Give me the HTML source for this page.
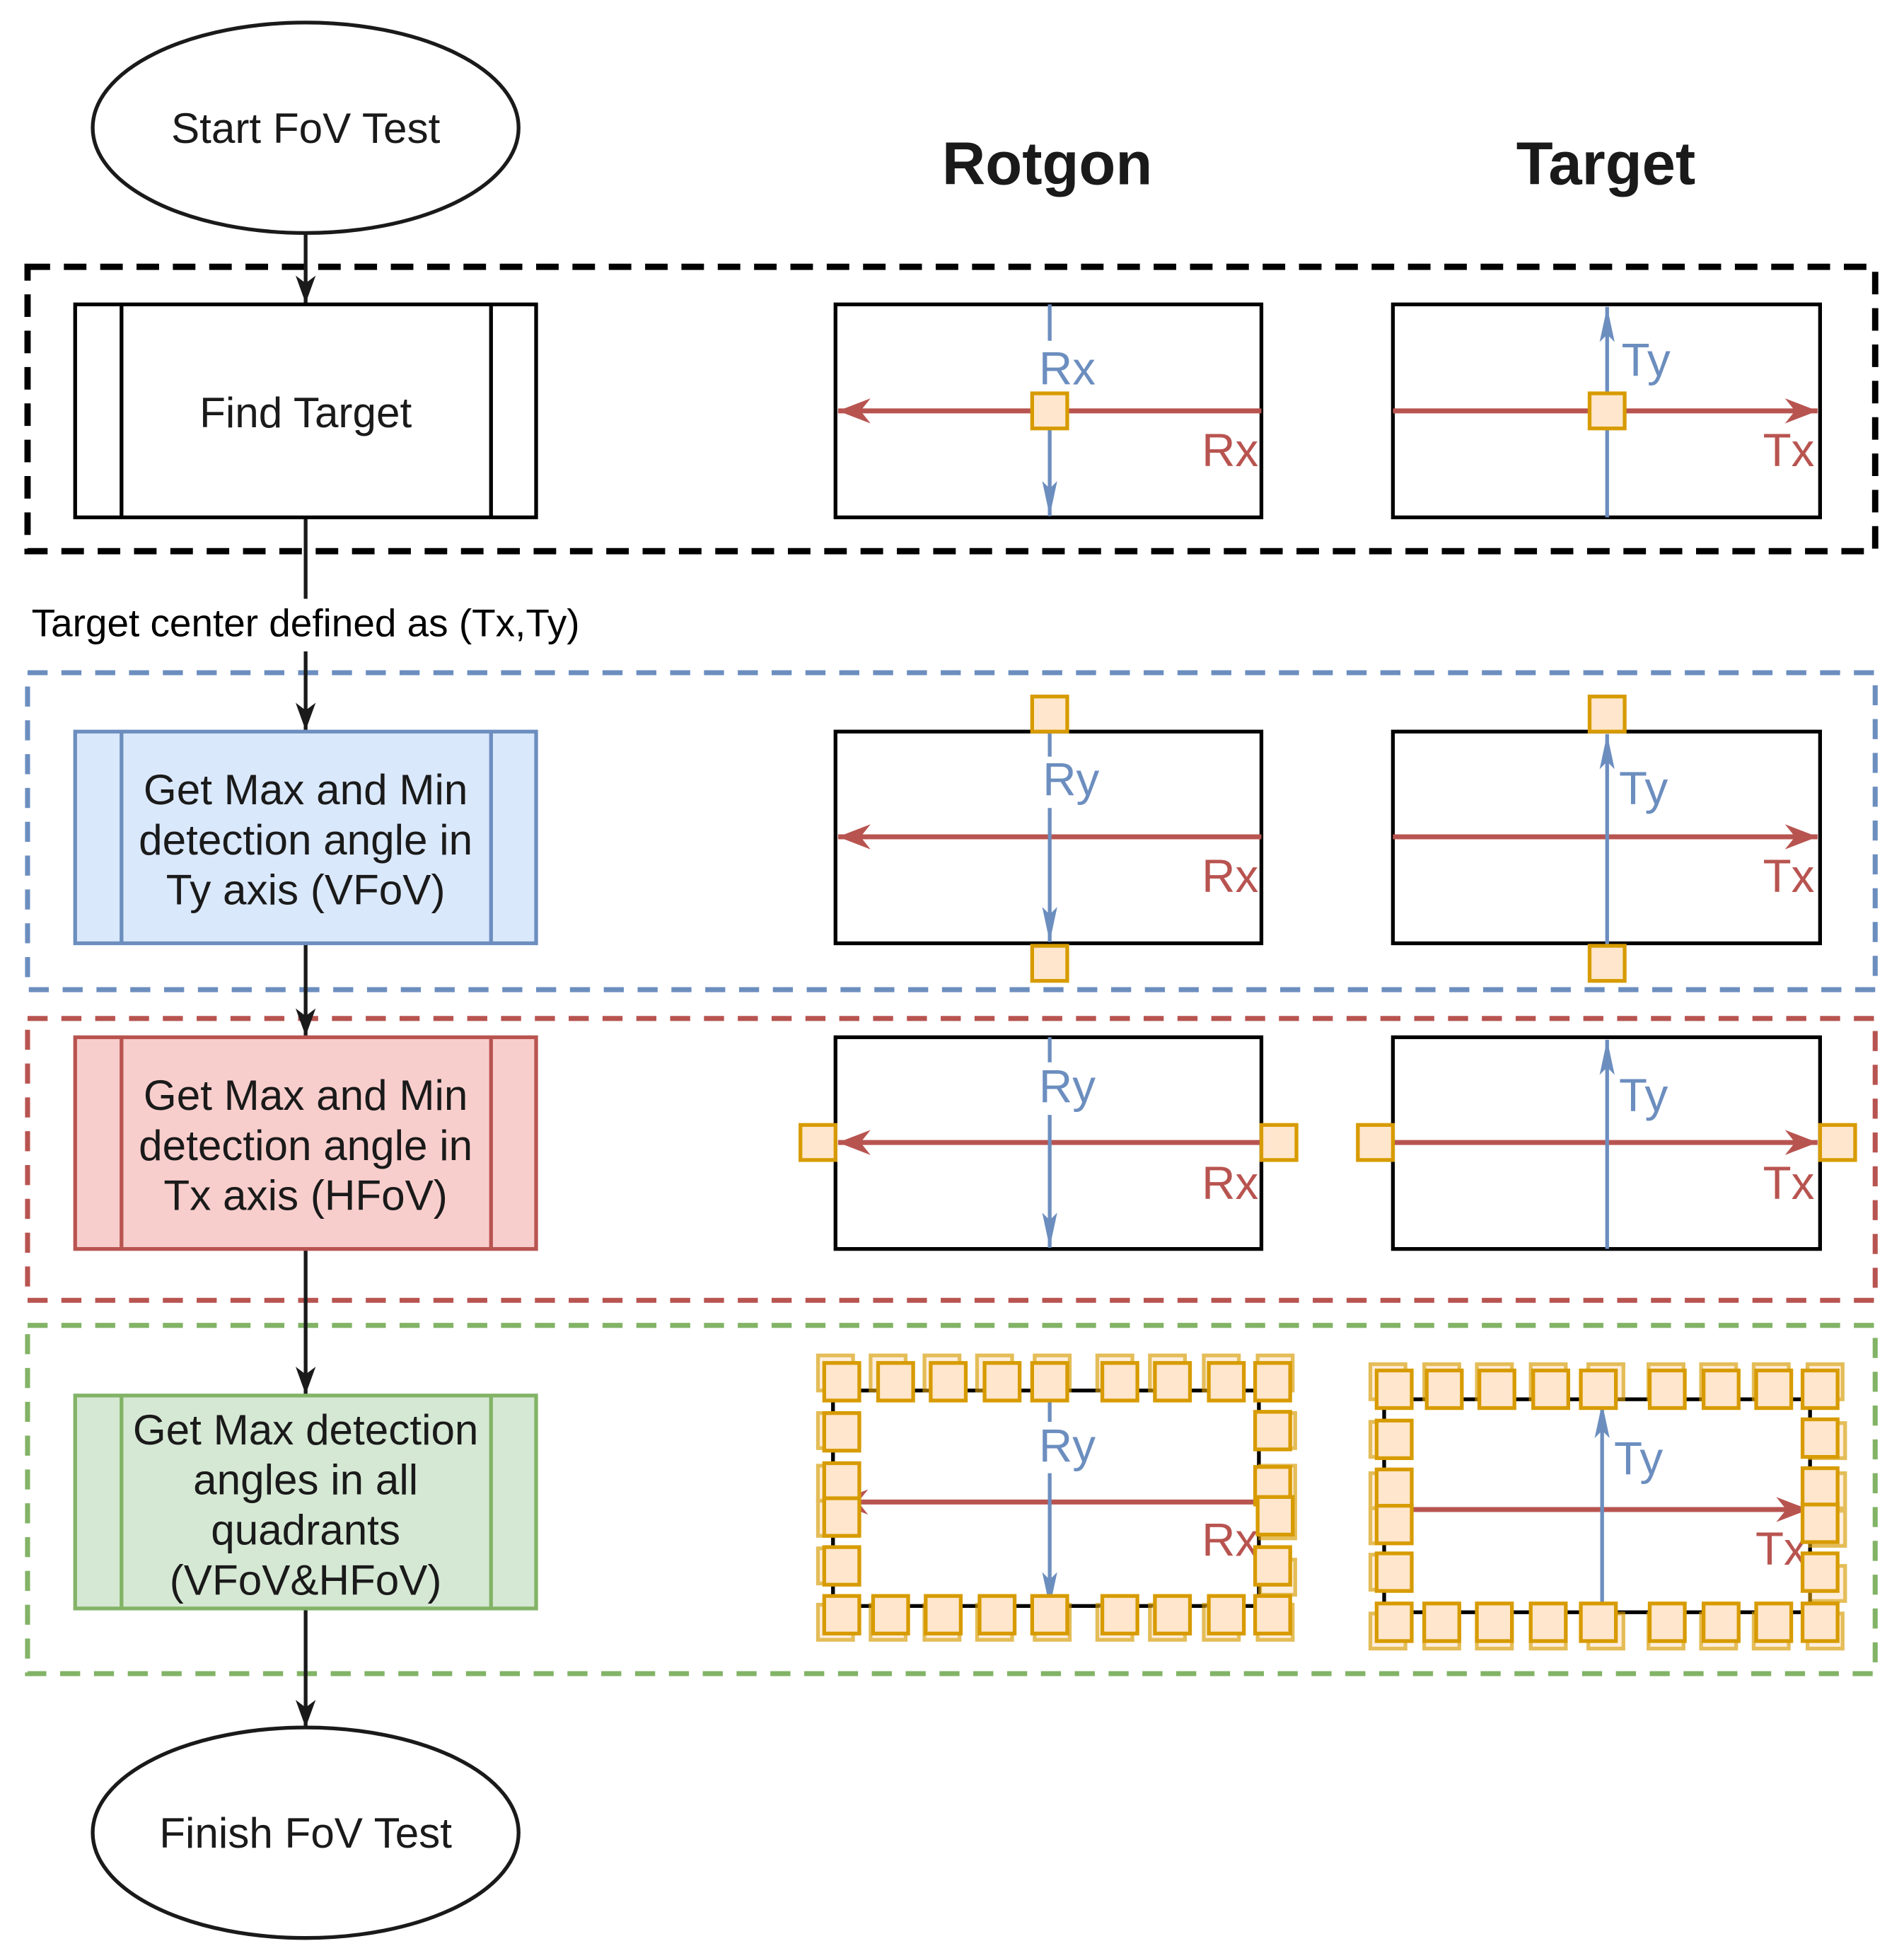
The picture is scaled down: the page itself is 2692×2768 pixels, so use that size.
<!DOCTYPE html>
<html><head><meta charset="utf-8"><style>
html,body{margin:0;padding:0;background:#fff;}
svg{display:block;}
text{font-family:"Liberation Sans",sans-serif;}
</style></head><body>
<svg width="2692" height="2768" viewBox="0 0 1520 1563" preserveAspectRatio="none" xmlns="http://www.w3.org/2000/svg">
<defs>
<marker id="ab" markerUnits="userSpaceOnUse" markerWidth="30" markerHeight="30" refX="22" refY="10" orient="auto" viewBox="0 0 30 20">
<path d="M0,2 L22,10 L0,18 L6,10 Z" fill="#1a1a1a"/></marker>
<marker id="ar" markerUnits="userSpaceOnUse" markerWidth="30" markerHeight="30" refX="26" refY="10" orient="auto" viewBox="0 0 30 20">
<path d="M0,0 L26,10 L0,20 L8,10 Z" fill="#b85450"/></marker>
<marker id="au" markerUnits="userSpaceOnUse" markerWidth="30" markerHeight="30" refX="28" refY="6" orient="auto" viewBox="0 0 30 12">
<path d="M0,0 L28,6 L0,12 L6,6 Z" fill="#6c8ebf"/></marker>
</defs>

<rect x="22" y="213" width="1475" height="227" fill="none" stroke="#000" stroke-width="5" stroke-dasharray="18,11"/>
<rect x="22" y="537" width="1475" height="253" fill="none" stroke="#6c8ebf" stroke-width="4" stroke-dasharray="16,11"/>
<rect x="22" y="813" width="1475" height="225" fill="none" stroke="#b85450" stroke-width="4" stroke-dasharray="16,11"/>
<rect x="22" y="1058" width="1475" height="278" fill="none" stroke="#82b366" stroke-width="4" stroke-dasharray="16,11"/>

<ellipse cx="244" cy="102" rx="170" ry="84" fill="#fff" stroke="#1a1a1a" stroke-width="3"/>
<text x="244" y="114" font-size="34" text-anchor="middle" fill="#1a1a1a">Start FoV Test</text>
<ellipse cx="244" cy="1463" rx="170" ry="84" fill="#fff" stroke="#1a1a1a" stroke-width="3"/>
<text x="244" y="1475" font-size="34" text-anchor="middle" fill="#1a1a1a">Finish FoV Test</text>

<g stroke="#1a1a1a" stroke-width="3" fill="none">
<line x1="244" y1="187" x2="244" y2="242" marker-end="url(#ab)"/>
<line x1="244" y1="413" x2="244" y2="478"/>
<line x1="244" y1="520" x2="244" y2="583" marker-end="url(#ab)"/>
<line x1="244" y1="753" x2="244" y2="827" marker-end="url(#ab)"/>
<line x1="244" y1="997" x2="244" y2="1113" marker-end="url(#ab)"/>
<line x1="244" y1="1284" x2="244" y2="1379" marker-end="url(#ab)"/>
</g>
<text x="244" y="508" font-size="31" text-anchor="middle" fill="#000">Target center defined as (Tx,Ty)</text>

<g stroke-width="3">
<rect x="60" y="243" width="368" height="170" fill="#fff" stroke="#000"/>
<line x1="97" y1="243" x2="97" y2="413" stroke="#000"/><line x1="392" y1="243" x2="392" y2="413" stroke="#000"/>
<rect x="60" y="584" width="368" height="169" fill="#dae8fc" stroke="#6c8ebf"/>
<line x1="97" y1="584" x2="97" y2="753" stroke="#6c8ebf"/><line x1="392" y1="584" x2="392" y2="753" stroke="#6c8ebf"/>
<rect x="60" y="828" width="368" height="169" fill="#f8cecc" stroke="#b85450"/>
<line x1="97" y1="828" x2="97" y2="997" stroke="#b85450"/><line x1="392" y1="828" x2="392" y2="997" stroke="#b85450"/>
<rect x="60" y="1114" width="368" height="170" fill="#d5e8d4" stroke="#82b366"/>
<line x1="97" y1="1114" x2="97" y2="1284" stroke="#82b366"/><line x1="392" y1="1114" x2="392" y2="1284" stroke="#82b366"/>
</g>
<g font-size="34" text-anchor="middle" fill="#1a1a1a">
<text x="244" y="341">Find Target</text>
<text x="244" y="642">Get Max and Min</text>
<text x="244" y="682">detection angle in</text>
<text x="244" y="722">Ty axis (VFoV)</text>
<text x="244" y="886">Get Max and Min</text>
<text x="244" y="926">detection angle in</text>
<text x="244" y="966">Tx axis (HFoV)</text>
<text x="244" y="1153">Get Max detection</text>
<text x="244" y="1193">angles in all</text>
<text x="244" y="1233">quadrants</text>
<text x="244" y="1273">(VFoV&amp;HFoV)</text>
</g>

<text x="836" y="147" font-size="48" font-weight="bold" text-anchor="middle" fill="#1a1a1a">Rotgon</text>
<text x="1282" y="147" font-size="48" font-weight="bold" text-anchor="middle" fill="#1a1a1a">Target</text>

<g fill="#fff" stroke="#000" stroke-width="3">
<rect x="667" y="243" width="340" height="170"/><rect x="1112" y="243" width="341" height="170"/>
<rect x="667" y="584" width="340" height="169"/><rect x="1112" y="584" width="341" height="169"/>
<rect x="667" y="828" width="340" height="169"/><rect x="1112" y="828" width="341" height="169"/>
<rect x="665" y="1110" width="340" height="172"/><rect x="1105" y="1117" width="340" height="170"/>
</g>

<g stroke-width="3" fill="none">
<line x1="1007" y1="328" x2="669" y2="328" stroke="#b85450" stroke-width="4" marker-end="url(#ar)"/>
<line x1="838" y1="243" x2="838" y2="272" stroke="#6c8ebf"/>
<line x1="838" y1="342" x2="838" y2="412" stroke="#6c8ebf" marker-end="url(#au)"/>
<line x1="1112" y1="328" x2="1451" y2="328" stroke="#b85450" stroke-width="4" marker-end="url(#ar)"/>
<line x1="1283" y1="413" x2="1283" y2="245" stroke="#6c8ebf" marker-end="url(#au)"/>
</g>
<g stroke-width="3" fill="none">
<line x1="1007" y1="668" x2="669" y2="668" stroke="#b85450" stroke-width="4" marker-end="url(#ar)"/>
<line x1="838" y1="584" x2="838" y2="604" stroke="#6c8ebf"/>
<line x1="838" y1="645" x2="838" y2="752" stroke="#6c8ebf" marker-end="url(#au)"/>
<line x1="1112" y1="668" x2="1451" y2="668" stroke="#b85450" stroke-width="4" marker-end="url(#ar)"/>
<line x1="1283" y1="755" x2="1283" y2="586" stroke="#6c8ebf" marker-end="url(#au)"/>
</g>
<g stroke-width="3" fill="none">
<line x1="1007" y1="912" x2="669" y2="912" stroke="#b85450" stroke-width="4" marker-end="url(#ar)"/>
<line x1="838" y1="828" x2="838" y2="848" stroke="#6c8ebf"/>
<line x1="838" y1="890" x2="838" y2="996" stroke="#6c8ebf" marker-end="url(#au)"/>
<line x1="1112" y1="912" x2="1451" y2="912" stroke="#b85450" stroke-width="4" marker-end="url(#ar)"/>
<line x1="1283" y1="997" x2="1283" y2="830" stroke="#6c8ebf" marker-end="url(#au)"/>
</g>
<g stroke-width="3" fill="none">
<line x1="1005" y1="1199" x2="667" y2="1199" stroke="#b85450" stroke-width="4" marker-end="url(#ar)"/>
<line x1="838" y1="1117" x2="838" y2="1135" stroke="#6c8ebf"/>
<line x1="838" y1="1176" x2="838" y2="1283" stroke="#6c8ebf" marker-end="url(#au)"/>
<line x1="1108" y1="1205" x2="1444" y2="1205" stroke="#b85450" stroke-width="4" marker-end="url(#ar)"/>
<line x1="1279" y1="1290" x2="1279" y2="1120" stroke="#6c8ebf" marker-end="url(#au)"/>
</g>

<g font-size="37">
<text x="852" y="307" fill="#6c8ebf" text-anchor="middle">Rx</text>
<text x="982" y="372" fill="#b85450" text-anchor="middle">Rx</text>
<text x="1314" y="300" fill="#6c8ebf" text-anchor="middle">Ty</text>
<text x="1428" y="372" fill="#b85450" text-anchor="middle">Tx</text>
<text x="855" y="635" fill="#6c8ebf" text-anchor="middle">Ry</text>
<text x="982" y="712" fill="#b85450" text-anchor="middle">Rx</text>
<text x="1312" y="642" fill="#6c8ebf" text-anchor="middle">Ty</text>
<text x="1428" y="712" fill="#b85450" text-anchor="middle">Tx</text>
<text x="852" y="880" fill="#6c8ebf" text-anchor="middle">Ry</text>
<text x="982" y="957" fill="#b85450" text-anchor="middle">Rx</text>
<text x="1312" y="887" fill="#6c8ebf" text-anchor="middle">Ty</text>
<text x="1428" y="957" fill="#b85450" text-anchor="middle">Tx</text>
<text x="852" y="1167" fill="#6c8ebf" text-anchor="middle">Ry</text>
<text x="982" y="1242" fill="#b85450" text-anchor="middle">Rx</text>
<text x="1308" y="1177" fill="#6c8ebf" text-anchor="middle">Ty</text>
<text x="1422" y="1249" fill="#b85450" text-anchor="middle">Tx</text>
</g>

<g fill="#ffe6cc" stroke="#d79b00" stroke-width="3">
<rect x="824" y="314" width="28" height="28"/>
<rect x="1269" y="314" width="28" height="28"/>
<rect x="824" y="556" width="28" height="28"/>
<rect x="824" y="755" width="28" height="28"/>
<rect x="1269" y="556" width="28" height="28"/>
<rect x="1269" y="755" width="28" height="28"/>
<rect x="639" y="898" width="28" height="28"/>
<rect x="1007" y="898" width="28" height="28"/>
<rect x="1084" y="898" width="28" height="28"/>
<rect x="1453" y="898" width="28" height="28"/>
</g>

<g fill="#ffe6cc" stroke="#d79b00" stroke-width="3" opacity="0.65">
<rect x="653" y="1082" width="28" height="28"/><rect x="695" y="1082" width="28" height="28"/><rect x="738" y="1082" width="28" height="28"/><rect x="780" y="1082" width="28" height="28"/><rect x="826" y="1082" width="28" height="28"/><rect x="876" y="1082" width="28" height="28"/><rect x="918" y="1082" width="28" height="28"/><rect x="961" y="1082" width="28" height="28"/><rect x="1004" y="1082" width="28" height="28"/>
<rect x="653" y="1281" width="28" height="28"/><rect x="695" y="1281" width="28" height="28"/><rect x="738" y="1281" width="28" height="28"/><rect x="780" y="1281" width="28" height="28"/><rect x="826" y="1281" width="28" height="28"/><rect x="876" y="1281" width="28" height="28"/><rect x="918" y="1281" width="28" height="28"/><rect x="961" y="1281" width="28" height="28"/><rect x="1004" y="1281" width="28" height="28"/>
<rect x="653" y="1128" width="28" height="28"/><rect x="653" y="1170" width="28" height="28"/><rect x="653" y="1198" width="28" height="28"/><rect x="653" y="1236" width="28" height="28"/>
<rect x="1006" y="1128" width="28" height="28"/><rect x="1006" y="1170" width="28" height="28"/><rect x="1006" y="1200" width="28" height="28"/><rect x="1006" y="1245" width="28" height="28"/>
<rect x="1094" y="1089" width="28" height="28"/><rect x="1137" y="1089" width="28" height="28"/><rect x="1179" y="1089" width="28" height="28"/><rect x="1222" y="1089" width="28" height="28"/><rect x="1268" y="1089" width="28" height="28"/><rect x="1316" y="1089" width="28" height="28"/><rect x="1358" y="1089" width="28" height="28"/><rect x="1400" y="1089" width="28" height="28"/><rect x="1443" y="1089" width="28" height="28"/>
<rect x="1094" y="1288" width="28" height="28"/><rect x="1137" y="1288" width="28" height="28"/><rect x="1179" y="1288" width="28" height="28"/><rect x="1222" y="1288" width="28" height="28"/><rect x="1268" y="1288" width="28" height="28"/><rect x="1316" y="1288" width="28" height="28"/><rect x="1358" y="1288" width="28" height="28"/><rect x="1400" y="1288" width="28" height="28"/><rect x="1443" y="1288" width="28" height="28"/>
<rect x="1094" y="1135" width="28" height="28"/><rect x="1094" y="1176" width="28" height="28"/><rect x="1094" y="1204" width="28" height="28"/><rect x="1094" y="1241" width="28" height="28"/>
<rect x="1445" y="1136" width="28" height="28"/><rect x="1445" y="1176" width="28" height="28"/><rect x="1445" y="1206" width="28" height="28"/><rect x="1445" y="1250" width="28" height="28"/>
</g>
<g fill="#ffe6cc" stroke="#d79b00" stroke-width="3">
<rect x="658" y="1088" width="28" height="30"/><rect x="701" y="1088" width="28" height="30"/><rect x="743" y="1088" width="28" height="30"/><rect x="786" y="1088" width="28" height="30"/><rect x="824" y="1088" width="28" height="30"/><rect x="880" y="1088" width="28" height="30"/><rect x="922" y="1088" width="28" height="30"/><rect x="965" y="1088" width="28" height="30"/><rect x="1002" y="1088" width="28" height="30"/>
<rect x="658" y="1274" width="28" height="30"/><rect x="697" y="1274" width="28" height="30"/><rect x="739" y="1274" width="28" height="30"/><rect x="782" y="1274" width="28" height="30"/><rect x="824" y="1274" width="28" height="30"/><rect x="880" y="1274" width="28" height="30"/><rect x="922" y="1274" width="28" height="30"/><rect x="965" y="1274" width="28" height="30"/><rect x="1002" y="1274" width="28" height="30"/>
<rect x="658" y="1128" width="28" height="30"/><rect x="658" y="1168" width="28" height="30"/><rect x="658" y="1196" width="28" height="30"/><rect x="658" y="1235" width="28" height="30"/>
<rect x="1002" y="1127" width="28" height="30"/><rect x="1002" y="1171" width="28" height="30"/><rect x="1004" y="1195" width="28" height="30"/><rect x="1002" y="1235" width="28" height="30"/>
<rect x="1099" y="1094" width="28" height="30"/><rect x="1139" y="1094" width="28" height="30"/><rect x="1181" y="1094" width="28" height="30"/><rect x="1224" y="1094" width="28" height="30"/><rect x="1262" y="1094" width="28" height="30"/><rect x="1317" y="1094" width="28" height="30"/><rect x="1360" y="1094" width="28" height="30"/><rect x="1402" y="1094" width="28" height="30"/><rect x="1439" y="1094" width="28" height="30"/>
<rect x="1099" y="1280" width="28" height="30"/><rect x="1137" y="1280" width="28" height="30"/><rect x="1179" y="1280" width="28" height="30"/><rect x="1222" y="1280" width="28" height="30"/><rect x="1262" y="1280" width="28" height="30"/><rect x="1317" y="1280" width="28" height="30"/><rect x="1360" y="1280" width="28" height="30"/><rect x="1402" y="1280" width="28" height="30"/><rect x="1439" y="1280" width="28" height="30"/>
<rect x="1099" y="1134" width="28" height="30"/><rect x="1099" y="1173" width="28" height="30"/><rect x="1099" y="1202" width="28" height="30"/><rect x="1099" y="1240" width="28" height="30"/>
<rect x="1439" y="1133" width="28" height="30"/><rect x="1439" y="1172" width="28" height="30"/><rect x="1439" y="1201" width="28" height="30"/><rect x="1439" y="1240" width="28" height="30"/>
</g>
</svg>
</body></html>
